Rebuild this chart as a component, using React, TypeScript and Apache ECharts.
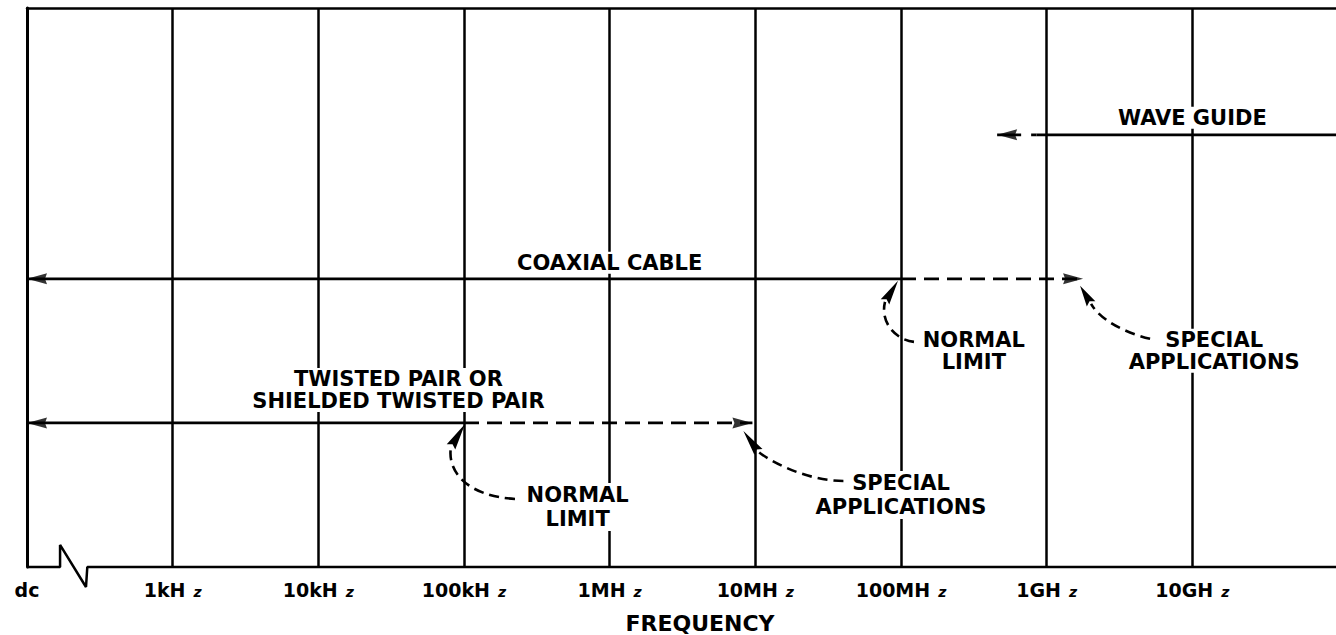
import React, { useEffect, useRef } from 'react';
import * as echarts from 'echarts';

// x axis: log10(frequency / Hz); "dc" sits one decade below 1 kHz
const tickValues = [2, 3, 4, 5, 6, 7, 8, 9, 10];
const tickLabels = ['dc', '1kHz', '10kHz', '100kHz', '1MHz', '10MHz', '100MHz', '1GHz', '10GHz'];
const xMin = 2;
const xMax = 11;
const yMax = 3.88;

// transmission media, one level each
const mediaNames = ['TWISTED PAIR OR\nSHIELDED TWISTED PAIR', 'COAXIAL CABLE', 'WAVE GUIDE'];
const mediaLevels = [1, 2, 3];
const solidFrom = [2, 2, 8.93];
const solidTo = [5, 8, 11];
const dashedFrom = [5, 8, 8.66];
const dashedTo = [6.98, 9.25, 8.93];
const leftArrows = [2, 2, 8.66];
const rightArrows = [6.98, 9.25];
const nameAt = [4.55, 6, 10];
const nameDy = [-33, -16, -17];
const nameLineHeight = [22, 22, 22];

// notes pointing at the limits
const noteTexts = ['NORMAL\nLIMIT', 'SPECIAL\nAPPLICATIONS', 'NORMAL\nLIMIT', 'SPECIAL\nAPPLICATIONS'];
const noteLevel = [1, 1, 2, 2];
const notePointsTo = [5, 6.98, 8, 9.25];
const noteTextAt = [5.78, 8.0, 8.5, 10.15];
const noteTextDy = [84, 72, 72, 72];
const noteLineHeight = [24, 24, 22, 22];

// axis line with break symbol near dc
const breakX = [2, 2.227, 2.227, 2.405, 2.414, 11];
const breakY = [0, 0, 0.153, -0.139, 0, 0];

// curve shapes (pixel offsets from the pointed-at limit)
const curveGeom = [
  { tip: [1, 1], end: [-13, 24], cp2: [-17, 47], cp1: [1, 73], start: [51, 76] },
  { tip: [-9, 8], end: [6, 29], cp2: [23, 42], cp1: [58, 58], start: [91, 58] },
  { tip: [-3, 2], end: [-16, 23], cp2: [-21, 43], cp1: [-6, 61], start: [13, 63] },
  { tip: [-3, 7], end: [8, 25], cp2: [17, 41], cp1: [42, 54], start: [67, 60] },
];

const FONT = '"DejaVu Sans", "Liberation Sans", sans-serif';
const BLACK = '#000';

export default function App() {
  const ref = useRef<HTMLDivElement>(null);
  useEffect(() => {
    const el = ref.current;
    if (!el) return;
    const chart = echarts.init(el, null, { renderer: 'svg' });

    const series: any[] = [];
    series.push({
      type: 'line',
      data: breakX.map((x, i) => [x, breakY[i]]),
      symbol: 'none',
      clip: false,
      silent: true,
      lineStyle: { color: BLACK, width: 2.5 },
      z: 3,
    });
    mediaLevels.forEach((lv, i) => {
      series.push({
        type: 'line',
        data: [[solidFrom[i], lv], [solidTo[i], lv]],
        symbol: 'none',
        clip: false,
        silent: true,
        lineStyle: { color: BLACK, width: 2.8 },
      });
      series.push({
        type: 'line',
        data: [[dashedFrom[i], lv], [dashedTo[i], lv]],
        symbol: 'none',
        clip: false,
        silent: true,
        lineStyle: { color: BLACK, width: 2.8, type: i === 2 ? [24, 10] : [15, 8] },
      });
    });
    series.push({
      type: 'scatter',
      data: leftArrows.map((x, i) => [x, mediaLevels[i]]),
      symbol: 'path://M0,5L20,0L18,5L20,10Z',
      symbolKeepAspect: false,
      symbolSize: [20, 11],
      symbolOffset: [10, 0],
      itemStyle: { color: BLACK },
      silent: true,
      clip: false,
      z: 4,
    });
    series.push({
      type: 'scatter',
      data: rightArrows.map((x, i) => [x, mediaLevels[i]]),
      symbol: 'path://M20,5L0,0L2,5L0,10Z',
      symbolKeepAspect: false,
      symbolSize: [20, 11],
      symbolOffset: [-10, 0],
      itemStyle: { color: BLACK },
      silent: true,
      clip: false,
      z: 4,
    });

    const option: any = {
      animation: false,
      backgroundColor: '#fff',
      grid: { left: 27, right: -2, top: 8, bottom: 68, containLabel: false, outerBoundsMode: 'none' },
      xAxis: [
        {
          type: 'value',
          min: xMin,
          max: xMax,
          interval: 1,
          position: 'bottom',
          axisLine: { show: false },
          axisTick: { show: false },
          splitLine: { show: true, lineStyle: { color: BLACK, width: 2.5 } },
          axisLabel: {
            show: true,
            showMinLabel: true,
            margin: 12,
            color: BLACK,
            formatter: (v: number) => {
              const idx = tickValues.indexOf(Math.round(v * 1000) / 1000);
              if (idx < 0) return '';
              const t = tickLabels[idx];
              if (t.endsWith('z')) return `{n|${t.slice(0, -1)}}{z|z}`;
              return `{n|${t}}`;
            },
            rich: {
              n: { fontFamily: FONT, fontWeight: 'bold', fontSize: 19, lineHeight: 20, color: BLACK, verticalAlign: 'bottom' },
              z: { fontFamily: FONT, fontWeight: 'bold', fontStyle: 'italic', fontSize: 14, color: BLACK, padding: [0, 0, 0, 8], verticalAlign: 'bottom' },
            },
          },
        },
        {
          type: 'value',
          min: xMin,
          max: xMax,
          interval: 1,
          position: 'top',
          axisLine: { show: true, onZero: false, lineStyle: { color: BLACK, width: 2.5 } },
          axisTick: { show: false },
          axisLabel: { show: false },
          splitLine: { show: false },
        },
      ],
      yAxis: {
        type: 'value',
        min: 0,
        max: yMax,
        axisLine: { show: true, onZero: false, lineStyle: { color: BLACK, width: 3 } },
        axisTick: { show: false },
        axisLabel: { show: false },
        splitLine: { show: false },
      },
      series,
    };
    chart.setOption(option);

    const px = (x: number, y: number) => chart.convertToPixel({ gridIndex: 0 } as any, [x, y]) as number[];
    const textStyle = (text: string, size: number, lh: number) => ({
      text,
      fill: BLACK,
      fontFamily: FONT,
      fontWeight: 'bold',
      fontSize: size,
      lineHeight: lh,
      align: 'center',
      verticalAlign: 'middle',
      backgroundColor: '#fff',
      padding: [0, 3],
    });

    const graphic: any[] = [];
    mediaNames.forEach((name, i) => {
      const p = px(nameAt[i], mediaLevels[i]);
      graphic.push({ type: 'text', x: p[0], y: p[1] + nameDy[i], z: 50, style: textStyle(name, 21, nameLineHeight[i]) });
    });
    noteTexts.forEach((t, i) => {
      const p = px(noteTextAt[i], noteLevel[i]);
      graphic.push({ type: 'text', x: p[0], y: p[1] + noteTextDy[i], z: 50, style: textStyle(t, 21, noteLineHeight[i]) });
    });
    curveGeom.forEach((g, i) => {
      const a = px(notePointsTo[i], noteLevel[i]);
      const P = (o: number[]) => [a[0] + o[0], a[1] + o[1]];
      const s = P(g.start), c1 = P(g.cp1), c2 = P(g.cp2), e = P(g.end), tip = P(g.tip);
      graphic.push({
        type: 'bezierCurve',
        z: 60,
        shape: { x1: s[0], y1: s[1], cpx1: c1[0], cpy1: c1[1], cpx2: c2[0], cpy2: c2[1], x2: e[0], y2: e[1] },
        style: { stroke: BLACK, lineWidth: 2.6, lineDash: [10, 6], fill: 'none' },
      });
      const dx = tip[0] - e[0], dy = tip[1] - e[1];
      const len = Math.hypot(dx, dy);
      const ux = dx / len, uy = dy / len;
      const nx = -uy, ny = ux;
      const w = 5;
      graphic.push({
        type: 'polygon',
        z: 61,
        shape: {
          points: [
            tip,
            [e[0] + nx * w, e[1] + ny * w],
            [e[0] + ux * 3, e[1] + uy * 3],
            [e[0] - nx * w, e[1] - ny * w],
          ],
        },
        style: { fill: BLACK },
      });
    });
    graphic.push({
      type: 'text',
      x: 700,
      y: 623,
      z: 50,
      style: { text: 'FREQUENCY', fill: BLACK, fontFamily: FONT, fontWeight: 'bold', fontSize: 22, align: 'center', verticalAlign: 'middle' },
    });
    chart.setOption({ graphic });

    return () => chart.dispose();
  }, []);
  return <div ref={ref} style={{ position: 'fixed', left: 0, top: 0, width: 1336, height: 635, background: '#fff' }} />;
}
